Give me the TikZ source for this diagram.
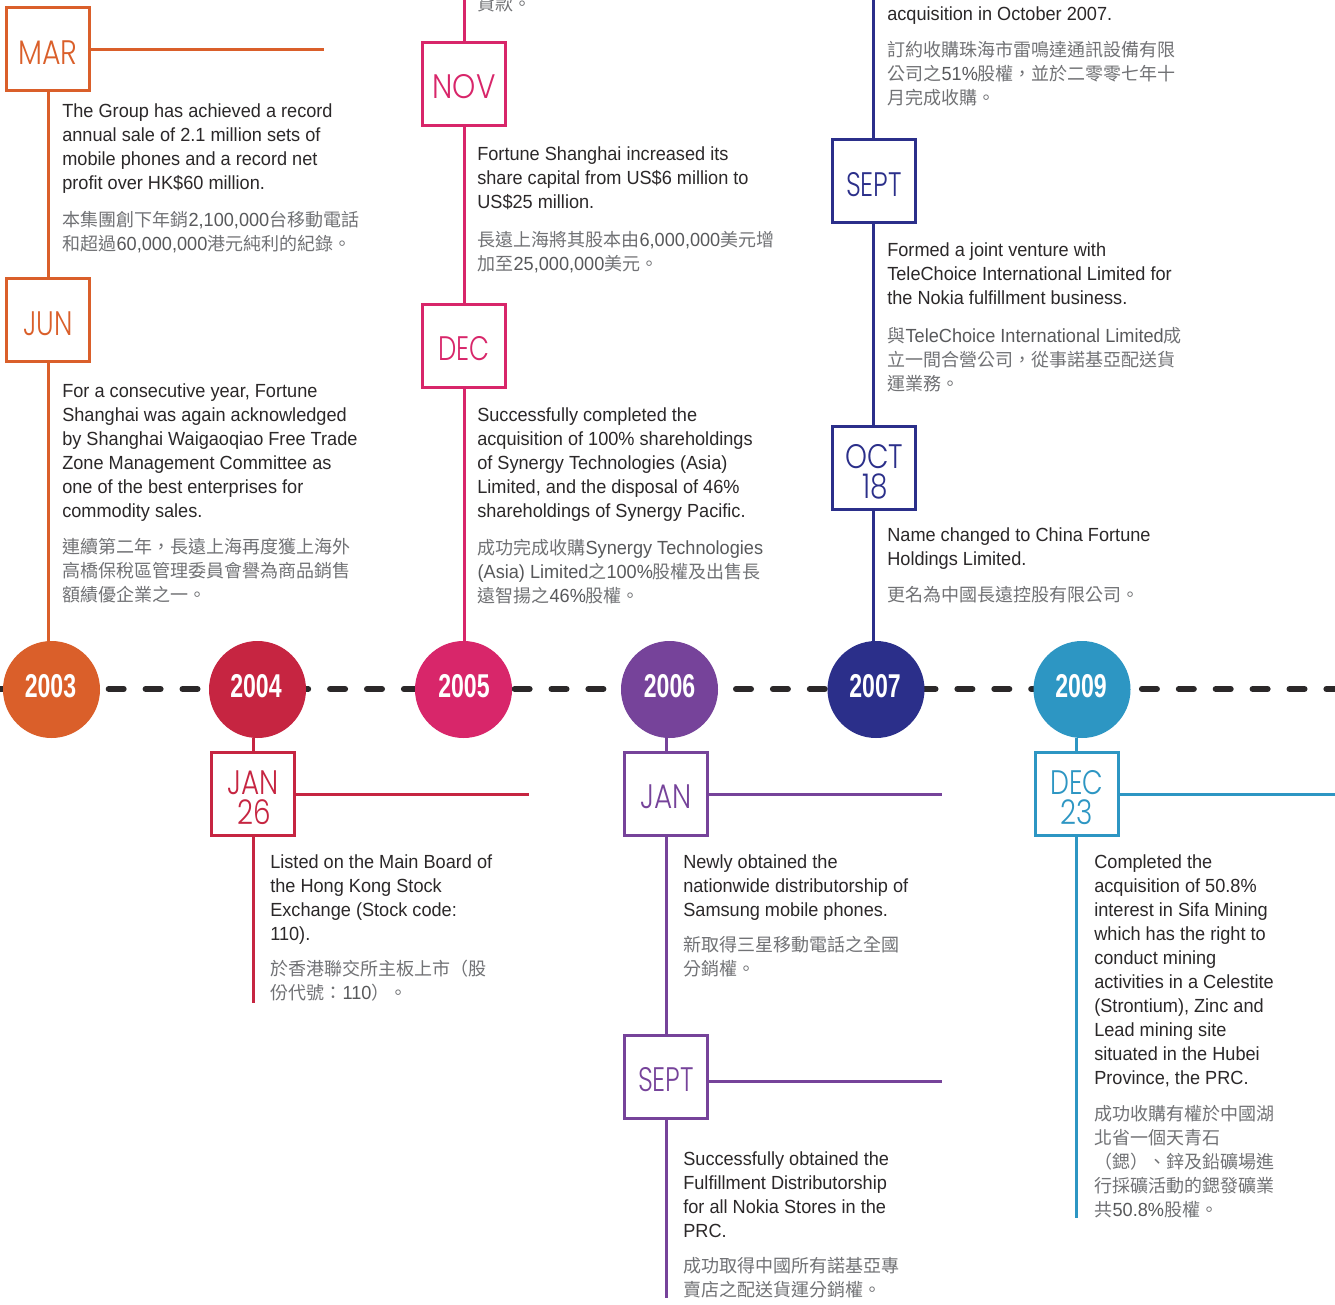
\documentclass[tikz,border=0pt]{standalone}
\usepackage{fontspec}
\usepackage{graphicx}
\setmainfont{Liberation Sans}
\newfontfamily\enf[FakeStretch=0.955]{Liberation Sans}
\newfontfamily\zhf{Noto Sans CJK TC}
\newfontfamily\monf[FakeStretch=0.82]{Poppins Light}
\newfontfamily\yrf[FakeStretch=0.7]{Liberation Sans Bold}
\definecolor{corange}{HTML}{DA5F2A}
\definecolor{cred}{HTML}{C62541}
\definecolor{cpink}{HTML}{D8266A}
\definecolor{cpurple}{HTML}{76439A}
\definecolor{cnavy}{HTML}{2B2F8A}
\definecolor{cblue}{HTML}{2D96C3}
\definecolor{ink}{HTML}{2B2829}
\definecolor{zhgray}{HTML}{717275}
\definecolor{numgray}{HTML}{58595B}
\newcommand{\zh}[1]{{\zhf\fontsize{18}{24}\selectfont\color{zhgray}#1}}
\newcommand{\firstline}{\rule{0pt}{15pt}}
\newcommand{\wscale}[2]{\scalebox{#1}[1]{#2}}
\tikzset{
  x=1pt,y=-1pt,
  yearcircle/.style={circle,fill=#1,draw=none,minimum size=97pt,inner sep=0pt},
  yearlabel/.style={text=white,inner sep=0pt,font={\yrf\fontsize{33}{33}\selectfont}},
  monthbox/.style={draw=#1,fill=white,line width=3pt,minimum size=83pt,inner sep=0pt},
  monthlabel/.style={text=#1,inner sep=0pt,align=center,font={\monf\fontsize{34}{30}\selectfont}},
  stem/.style={line width=3pt,draw=#1},
  entext/.style={anchor=north west,inner sep=0pt,align=left,text=ink,font={\enf\fontsize{19}{24}\selectfont}},
  zhtext/.style={anchor=north west,inner sep=0pt,align=left,text=numgray,font={\enf\fontsize{19}{24}\selectfont}},
  axisline/.style={line width=6pt,line cap=round,draw=ink,dash pattern=on 15pt off 21.9pt}
}
\newcommand{\en}[4]{\node[entext] (#1) at (#2+0.1,#3-15.2) {\firstline#4};}
\newcommand{\cn}[4]{\node[zhtext] (#1) at (#2+0.4,#3-15) {\firstline#4};}
\newcommand{\mon}[6]{\node[monthbox=#4] (#1) at (#2,#3) {};\node[monthlabel=#4] (#1T) at (#2,#3+#6) {#5};}
\begin{document}
\begin{tikzpicture}
\useasboundingbox (0,0) rectangle (1335,1305);
\fill[white] (0,0) rectangle (1335,1305);
% free ends
\coordinate (axisL) at (-2,689);
\coordinate (axisR) at (1335,689);
\coordinate (topP) at (464,0);
\coordinate (topN) at (873.5,0);
\coordinate (endA) at (253.5,1003);
\coordinate (endB) at (666,1298);
\coordinate (endC) at (1076.5,1218);
\coordinate (hA) at (324,49.5);
\coordinate (hB) at (529,794.5);
\coordinate (hC) at (942,794.5);
\coordinate (hD) at (942,1081.5);
\coordinate (hE) at (1335,794.5);
% axis
\draw[axisline] (axisL) -- (axisR);
% year circles
\node[yearcircle=corange] (y3) at (51.5,689.5) {};
\node[yearcircle=cred] (y4) at (257.5,689.5) {};
\node[yearcircle=cpink] (y5) at (463.5,689.5) {};
\node[yearcircle=cpurple] (y6) at (669.5,689.5) {};
\node[yearcircle=cnavy] (y7) at (876,689.5) {};
\node[yearcircle=cblue] (y9) at (1082,689.5) {};
\node[yearlabel] (y3T) at (50.5,686) {2003};
\node[yearlabel] (y4T) at (256,686) {2004};
\node[yearlabel] (y5T) at (464,686) {2005};
\node[yearlabel] (y6T) at (669.5,686) {2006};
\node[yearlabel] (y7T) at (875,686) {2007};
\node[yearlabel] (y9T) at (1081,686) {2009};
% stems
\draw[stem=corange] (48.5,641) -- (48.5,49.5) -- (hA);
\draw[stem=cpink] (topP) -- (464,641);
\draw[stem=cnavy] (topN) -- (873.5,641);
\draw[stem=cred] (253.5,738) -- (endA);
\draw[stem=cred] (253.5,794.5) -- (hB);
\draw[stem=cpurple] (666,738) -- (endB);
\draw[stem=cpurple] (666,794.5) -- (hC);
\draw[stem=cpurple] (666,1081.5) -- (hD);
\draw[stem=cblue] (1076.5,738) -- (endC);
\draw[stem=cblue] (1076.5,794.5) -- (hE);
% month boxes
\mon{mar}{48}{49}{corange}{\wscale{1.02}{MAR}}{4}
\mon{jun}{48}{320}{corange}{\wscale{.96}{JUN}}{3.5}
\mon{nov}{464}{84}{cpink}{\wscale{1.06}{NOV}}{3}
\mon{decA}{464}{346}{cpink}{\wscale{.93}{DEC}}{3}
\mon{septA}{874}{181}{cnavy}{\wscale{.93}{SEPT}}{3.5}
\mon{oct}{874}{468}{cnavy}{OCT\\\hspace*{3pt}18}{4}
\mon{jan}{253}{794}{cred}{JAN\\\hspace*{3pt}26}{4}
\mon{janB}{666}{794}{cpurple}{JAN}{3}
\mon{septB}{666}{1077}{cpurple}{\wscale{.93}{SEPT}}{3}
\mon{decB}{1077}{794}{cblue}{\wscale{.96}{DEC}\\23}{4}
% texts
\en{a1}{62}{118}{The Group has achieved a record\\annual sale of 2.1 million sets of\\mobile phones and a record net\\profit over HK\$60 million.}
\cn{a2}{62}{226}{\zh{本集團創下年銷}2,100,000\zh{台移動電話}\\\zh{和超過}60,000,000\zh{港元純利的紀錄。}}
\en{b1}{62}{397}{For a consecutive year, Fortune\\Shanghai was again acknowledged\\by Shanghai Waigaoqiao Free Trade\\Zone Management Committee as\\one of the best enterprises for\\commodity sales.}
\cn{b2}{62}{553}{\zh{連續第二年，長遠上海再度獲上海外}\\\zh{高橋保稅區管理委員會譽為商品銷售}\\\zh{額績優企業之一。}}
\cn{c0}{477}{10}{\zh{貸款。}}
\en{c1}{477}{161}{Fortune Shanghai increased its\\share capital from US\$6 million to\\US\$25 million.}
\cn{c2}{477}{246}{\zh{長遠上海將其股本由}6,000,000\zh{美元增}\\\zh{加至}25,000,000\zh{美元。}}
\en{d1}{477}{421}{Successfully completed the\\acquisition of 100\% shareholdings\\of Synergy Technologies (Asia)\\Limited, and the disposal of 46\%\\shareholdings of Synergy Pacific.}
\cn{d2}{477}{554}{\zh{成功完成收購}Synergy Technologies\\(Asia) Limited\zh{之}100\%\zh{股權及出售長}\\\zh{遠智揚之}46\%\zh{股權。}}
\en{e0}{887}{21}{acquisition in October 2007.}
\cn{e1}{887}{56}{\zh{訂約收購珠海市雷鳴達通訊設備有限}\\\zh{公司之}51\%\zh{股權，並於二零零七年十}\\\zh{月完成收購。}}
\en{f1}{887}{257}{Formed a joint venture with\\TeleChoice International Limited for\\the Nokia fulfillment business.}
\cn{f2}{887}{342}{\zh{與}TeleChoice International Limited\zh{成}\\\zh{立一間合營公司，從事諾基亞配送貨}\\\zh{運業務。}}
\en{g1}{887}{541}{Name changed to China Fortune\\Holdings Limited.}
\cn{g2}{887}{601}{\zh{更名為中國長遠控股有限公司。}}
\en{h1}{270}{868}{Listed on the Main Board of\\the Hong Kong Stock\\Exchange (Stock code:\\110).}
\cn{h2}{270}{975}{\zh{於香港聯交所主板上市（股}\\\zh{份代號：}110\zh{）。}}
\en{i1}{683}{868}{Newly obtained the\\nationwide distributorship of\\Samsung mobile phones.}
\cn{i2}{683}{951}{\zh{新取得三星移動電話之全國}\\\zh{分銷權。}}
\en{j1}{683}{1165}{Successfully obtained the\\Fulfillment Distributorship\\for all Nokia Stores in the\\PRC.}
\cn{j2}{683}{1272}{\zh{成功取得中國所有諾基亞專}\\\zh{賣店之配送貨運分銷權。}}
\en{k1}{1094}{868}{Completed the\\acquisition of 50.8\%\\interest in Sifa Mining\\which has the right to\\conduct mining\\activities in a Celestite\\(Strontium), Zinc and\\Lead mining site\\situated in the Hubei\\Province, the PRC.}
\cn{k2}{1094}{1120}{\zh{成功收購有權於中國湖}\\\zh{北省一個天青石}\\\zh{（鍶）、鋅及鉛礦場進}\\\zh{行採礦活動的鍶發礦業}\\\zh{共}50.8\%\zh{股權。}}
\end{tikzpicture}
\end{document}
